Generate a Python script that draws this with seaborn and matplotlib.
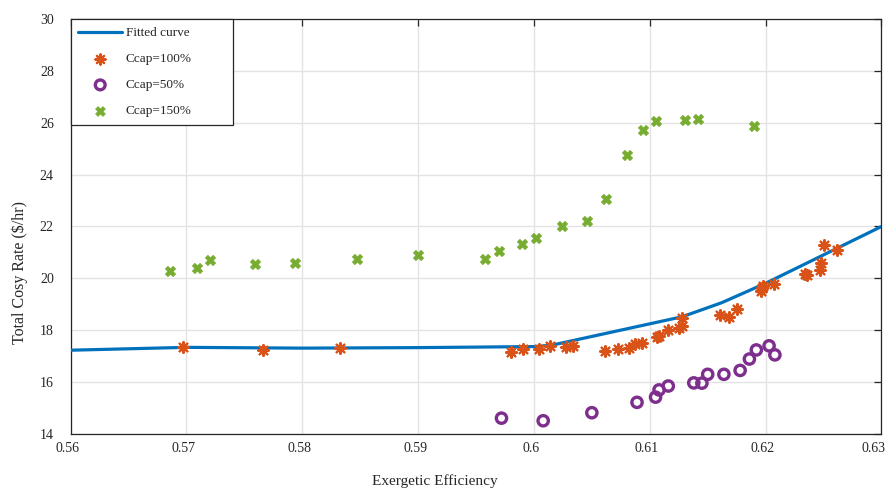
import matplotlib
matplotlib.use("Agg")
import matplotlib.pyplot as plt
import matplotlib.transforms as mtransforms
import seaborn as sns
import pandas as pd
from matplotlib.ticker import FixedLocator, FixedFormatter

# ---------------- data ----------------
fit_x = [0.56, 0.57, 0.58, 0.59, 0.60, 0.6015, 0.6128, 0.6162, 0.62, 0.63]
fit_y = [17.23, 17.34, 17.31, 17.33, 17.37, 17.42, 18.52, 19.06, 19.81, 22.00]

c100_x = [0.5697, 0.5766, 0.5833, 0.5980, 0.5991, 0.6004, 0.6014, 0.6028, 0.6034,
          0.6061, 0.6073, 0.6082, 0.6087, 0.6093, 0.6106, 0.6108, 0.6116, 0.6125,
          0.6128, 0.6128, 0.6161, 0.6168, 0.6175, 0.6196, 0.6197, 0.6198, 0.6207,
          0.6234, 0.6236, 0.6247, 0.6248, 0.6250, 0.6262]
c100_y = [17.35, 17.23, 17.31, 17.16, 17.28, 17.28, 17.41, 17.36, 17.40,
          17.20, 17.27, 17.33, 17.46, 17.50, 17.73, 17.79, 18.01, 18.08,
          18.17, 18.49, 18.58, 18.50, 18.82, 19.53, 19.62, 19.72, 19.79,
          20.17, 20.14, 20.33, 20.59, 21.30, 21.10]

c50_x = [0.5972, 0.6008, 0.6050, 0.6089, 0.6105, 0.6108, 0.6116, 0.6138, 0.6145,
         0.6150, 0.6164, 0.6178, 0.6186, 0.6192, 0.6203, 0.6208]
c50_y = [14.61, 14.51, 14.82, 15.22, 15.42, 15.70, 15.85, 15.97, 15.96,
         16.30, 16.30, 16.45, 16.89, 17.24, 17.40, 17.05]

c150_x = [0.5686, 0.5709, 0.5720, 0.5759, 0.5794, 0.5847, 0.5900, 0.5958, 0.5970,
          0.5990, 0.6002, 0.6024, 0.6046, 0.6062, 0.6080, 0.6094, 0.6105, 0.6130,
          0.6142, 0.6190]
c150_y = [20.29, 20.41, 20.72, 20.56, 20.60, 20.76, 20.91, 20.76, 21.07,
          21.34, 21.57, 22.03, 22.22, 23.07, 24.77, 25.74, 26.05, 26.12,
          26.16, 25.89]

x_ticks = [0.56, 0.57, 0.58, 0.59, 0.60, 0.61, 0.62, 0.63]
x_tick_labels = ["0.56", "0.57", "0.58", "0.59", "0.6", "0.61", "0.62", "0.63"]
y_ticks = [14, 16, 18, 20, 22, 24, 26, 28, 30]
y_tick_labels = ["14", "16", "18", "20", "22", "24", "26", "28", "30"]

labels = ["Fitted curve", "Ccap=100%", "Ccap=50%", "Ccap=150%"]
x_label = "Exergetic Efficiency"
y_label = r"Total Cosy Rate (\$/hr)"

# ---------------- style ----------------
sns.set_style("white")
plt.rcParams["font.family"] = ["Liberation Serif", "DejaVu Serif"]

fig = plt.figure(figsize=(8.85, 4.94), dpi=100)
ax = fig.add_axes([0.0797, 0.1215, 0.9163, 0.84])

fit_df = pd.DataFrame({"x": fit_x, "y": fit_y})
df100 = pd.DataFrame({"x": c100_x, "y": c100_y})
df50 = pd.DataFrame({"x": c50_x, "y": c50_y})
df150 = pd.DataFrame({"x": c150_x, "y": c150_y})

sns.lineplot(data=fit_df, x="x", y="y", ax=ax, color="#0072BD", linewidth=2.3,
             label=labels[0], sort=False, zorder=3)
sns.scatterplot(data=df100, x="x", y="y", ax=ax, marker=(8, 2, 0), s=60,
                color="#D95319", edgecolor="#D95319", linewidth=1.6,
                label=labels[1], zorder=4)
sns.scatterplot(data=df50, x="x", y="y", ax=ax, marker="o", s=55,
                facecolor="none", edgecolor="#7E2F8E", linewidth=2.4,
                label=labels[2], zorder=4)
sns.scatterplot(data=df150, x="x", y="y", ax=ax, marker="X", s=55,
                color="#77AC30", edgecolor="#77AC30", linewidth=0.5,
                label=labels[3], zorder=4)

ax.set_xlim(0.56, 0.63)
ax.set_ylim(14, 30)
ax.xaxis.set_major_locator(FixedLocator(x_ticks))
ax.xaxis.set_major_formatter(FixedFormatter(x_tick_labels))
ax.yaxis.set_major_locator(FixedLocator(y_ticks))
ax.yaxis.set_major_formatter(FixedFormatter(y_tick_labels))

ax.grid(True, color="#e3e3e3", linewidth=1.0)
ax.set_axisbelow(True)
for sp in ax.spines.values():
    sp.set_visible(True)
    sp.set_color("#262626")
    sp.set_linewidth(0.9)
ax.tick_params(direction="in", length=5, width=0.9, colors="#262626",
               top=True, right=True, labelsize=10)
ax.tick_params(axis="x", pad=6)
ax.tick_params(axis="y", pad=12)
xlabs = ax.get_xticklabels()
for i, lab in enumerate(xlabs):
    dx = -8 if i == len(xlabs) - 1 else -3
    shift = mtransforms.ScaledTranslation(dx / 100, 0, fig.dpi_scale_trans)
    lab.set_transform(lab.get_transform() + shift)
for lab in ax.get_xticklabels() + ax.get_yticklabels():
    lab.set_color("#262626")

ax.set_xlabel(x_label, fontsize=11, color="#262626")
ax.set_ylabel(y_label, fontsize=11.5, color="#262626")
ax.xaxis.set_label_coords(0.449, -0.097)
ax.yaxis.set_label_coords(-0.052, 0.388)

leg = ax.legend(loc="upper left", bbox_to_anchor=(0.0, 0.0, 0.1998, 1.0),
                mode="expand", borderaxespad=0.0, frameon=True, fancybox=False,
                edgecolor="#262626", framealpha=1.0, fontsize=9.5,
                handlelength=3.3, labelspacing=1.05, borderpad=0.6,
                handletextpad=0.3, markerscale=0.95)
leg.get_frame().set_linewidth(0.9)

fig.savefig("out.png", dpi=100)
